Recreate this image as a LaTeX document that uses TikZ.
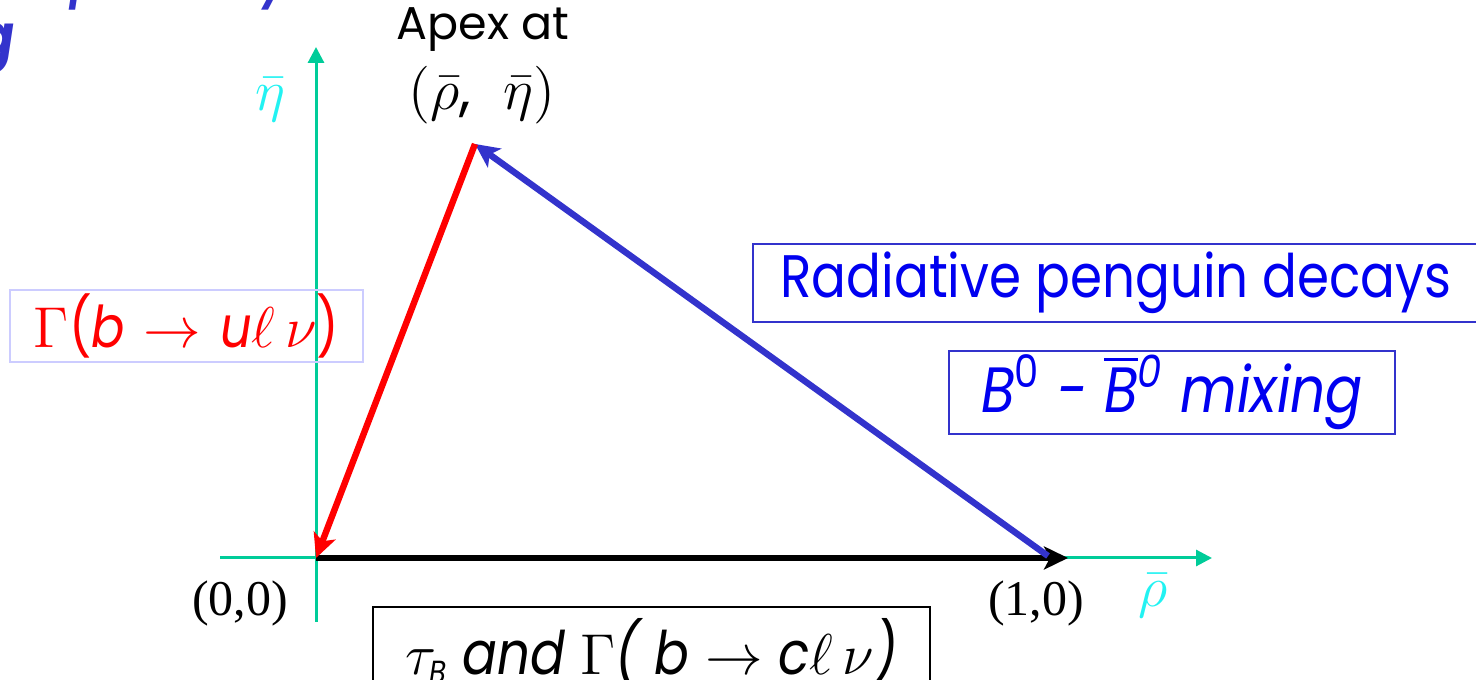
\documentclass[tikz,border=0pt]{standalone}
\usepackage{amsmath,amssymb}
\usepackage{fontspec}
\usepackage{tikz}
\usetikzlibrary{positioning,arrows.meta,calc}
\newfontfamily\comicfont{Poppins}
\newfontfamily\comicnarrow[FakeStretch=0.86]{Poppins}
\newfontfamily\romfont{Liberation Serif}
\definecolor{utaxis}{HTML}{00CC99}
\definecolor{utcyan}{HTML}{22F2F2}
\definecolor{utblue}{HTML}{3333CC}
\definecolor{uttext}{HTML}{0000F0}
\definecolor{utlav}{HTML}{CCCCFF}
\newcommand{\fs}[1]{\fontsize{#1}{#1}\selectfont}
\tikzset{
    axis/.style={draw=utaxis,line width=0.75pt,-{Triangle[length=4pt,width=4pt]}},
    side/.style={line width=1.6pt,-{Stealth[length=6pt,width=5.75pt,inset=1.5pt]}},
    box/.style={draw,line width=0.5pt,inner sep=0pt},
    coordlabel/.style={font=\romfont\fs{12.5}},
    axislabel/.style={text=utcyan,font=\fs{14.4}},
    comic/.style={font=\comicfont\fs{#1}},
    narrow/.style={font=\comicnarrow\fs{#1}},
}

\begin{document}
\begin{tikzpicture}[x=0.25pt,y=-0.25pt]
    \useasboundingbox (0,0) rectangle (1476,680);
    \clip (0,0) rectangle (1476,680);
    \coordinate (O) at (316,558);
    \coordinate (A) at (475,144);
    \coordinate (E) at (1068,558);
    \coordinate (S) at (1048,556);
    \coordinate (xl) at (220,558);
    \coordinate (xr) at (1212,558);
    \coordinate (yb) at (316,622);
    \coordinate (yt) at (316,47);

    \draw[axis] (xl) -- (xr);
    \draw[axis] (yb) -- (yt);
    \draw[side,black] (O) -- (E);
    \draw[side,utblue] (S) -- (A);
    \draw[side,red] (A) -- (O);

    \node[axislabel] (eta) at (270,100) {$\bar\eta$};
    \node[axislabel] (rho) at (1153,596) {$\bar\rho$};
    \node[coordlabel] (orig) at (240,603) {(0,0)};
    \node[coordlabel] (one) at (1036,603) {(1,0)};

    \node[comic=11.5] (apex) at (483,30) {Apex at};
    \node[font=\fs{14.4}] (apexc) at (482,95) {$(\bar\rho${\comicfont,}$\;\;\bar\eta)$};

    \node[box,draw=utlav,text=red,minimum width=88.25pt,minimum height=18pt] (ubox) at (186.5,326)
        {\fs{14.4}$\Gamma${\comicnarrow(\itshape b} $\rightarrow$ {\comicnarrow\itshape u}$\ell\,\nu${\comicnarrow)}};
    \node[box,draw=utblue,text=uttext,minimum width=181.5pt,minimum height=19.5pt,narrow=15,anchor=west] (rad) at (752,283)
        {Radiative penguin decays};
    \node[box,draw=utblue,text=uttext,minimum width=111.5pt,minimum height=20.75pt,narrow=16] (mix) at (1172,392.5)
        {\itshape B\textsuperscript{\upshape 0} - $\overline{\hbox{\comicnarrow\itshape B}}$\textsuperscript{0} mixing};
    \node[box,draw=black,minimum width=139.25pt,minimum height=22.5pt,narrow=15] (tau) at (651.5,652)
        {$\tau_{\hbox{\comicnarrow\itshape\fs{8}B}}$ \itshape and $\Gamma$( b $\rightarrow$ c$\ell\,\nu$)};

    \node[narrow=11,text=utblue,anchor=base east] (prob) at (300,-1) {\bfseries\itshape probability};
    \node[narrow=15,text=utblue,anchor=base east] (ng) at (29,58) {\bfseries\itshape ng};
\end{tikzpicture}
\end{document}
